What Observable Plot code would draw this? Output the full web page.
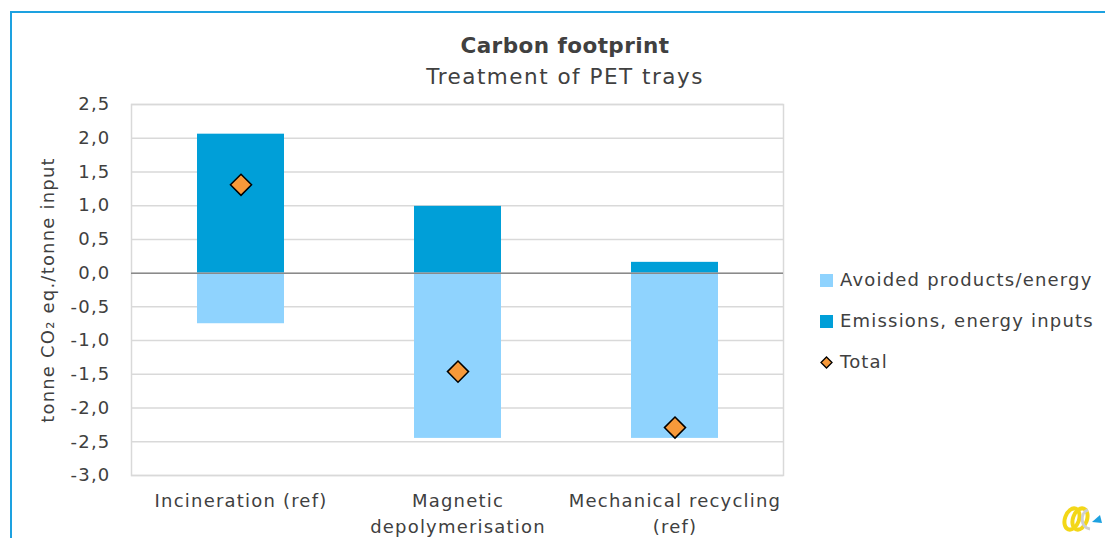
<!DOCTYPE html>
<html><head><meta charset="utf-8">
<script src="https://cdn.jsdelivr.net/npm/d3@7"></script>
<script src="https://cdn.jsdelivr.net/npm/@observablehq/plot@0.6"></script>
<style>
body{margin:0;background:#fff;overflow:hidden;font-family:"DejaVu Sans",sans-serif;color:#404040}
#wrap{position:relative;width:1105px;height:538px;overflow:hidden;background:#fff}
#border{position:absolute;left:10px;top:11px;width:1200px;height:700px;border:2px solid #1da1e0;box-sizing:border-box}
#title{position:absolute;left:10px;width:1110px;top:30px;text-align:center;font-size:21.5px;line-height:31px;color:#404040}
#title b{font-weight:bold;letter-spacing:0.45px}
#title span{letter-spacing:1.5px}
#chart{position:absolute;left:0;top:94px}
#legend{position:absolute;left:820px;top:266px;font-size:18px;letter-spacing:1.2px;color:#404040}
.li{position:relative;height:41px;line-height:28px;padding-left:20px;white-space:nowrap}
.sw{position:absolute;left:0;top:8px;width:13px;height:13px}
#logo{position:absolute;left:1058px;top:498px}
</style></head>
<body>
<div id="wrap">
  <div id="border"></div>
  <div id="title"><b>Carbon footprint</b><br><span>Treatment of PET trays</span></div>
  <div id="chart"></div>
  <div id="legend"></div>
  <svg id="logo" width="47" height="40" viewBox="0 0 47 40">
    <ellipse cx="14" cy="21" rx="7" ry="11" transform="rotate(20 14 21)" fill="none" stroke="#f3d718" stroke-width="4"/>
    <ellipse cx="22" cy="21" rx="7" ry="11" transform="rotate(20 22 21)" fill="none" stroke="#f3d718" stroke-width="4"/>
    <path d="M30 12 C22 14, 22 30, 32 31" fill="none" stroke="#cfcfcf" stroke-width="3"/>
    <path d="M34 24 L42 17 L44 25 Z" fill="#1da1e0"/>
  </svg>
</div>
<script>
const categories = ["Incineration (ref)", "Magnetic depolymerisation", "Mechanical recycling (ref)"];
const tickLabels = ["Incineration (ref)", "Magnetic\ndepolymerisation", "Mechanical recycling\n(ref)"];
const avoided = [-0.75, -2.45, -2.45];
const emissions = [2.06, 0.99, 0.16];
const totals = [1.31, -1.46, -2.29];
const yTicks = [-3.0, -2.5, -2.0, -1.5, -1.0, -0.5, 0.0, 0.5, 1.0, 1.5, 2.0, 2.5];
const seriesNames = ["Avoided products/energy", "Emissions, energy inputs", "Total"];
const colors = {avoided: "#8fd3fe", emissions: "#009fd8", total: "#f7993a"};

const rows = categories.map((c, i) => ({cat: c, avoided: avoided[i], emissions: emissions[i], total: totals[i]}));
const fmt = v => (Math.abs(v) < 1e-9 ? 0 : v).toFixed(1).replace(".", ",");

const chart = Plot.plot({
  width: 788,
  height: 444,
  marginLeft: 131,
  marginRight: 5,
  marginTop: 10,
  marginBottom: 63,
  style: {fontFamily: "DejaVu Sans, sans-serif", color: "#404040", background: "transparent", overflow: "visible", letterSpacing: "1.2px"},
  x: {domain: categories, paddingInner: 0.6, paddingOuter: 0.3},
  y: {domain: [-3, 2.5]},
  marks: [
    Plot.gridY(yTicks, {stroke: "#d9d9d9", strokeOpacity: 1, strokeWidth: 1.5}),
    Plot.barY(rows, {x: "cat", y1: 0, y2: "emissions", fill: colors.emissions}),
    Plot.barY(rows, {x: "cat", y1: 0, y2: "avoided", fill: colors.avoided}),
    Plot.frame({stroke: "#d9d9d9", strokeWidth: 1.5}),
    Plot.ruleY([0], {stroke: "#8a8a8a", strokeWidth: 1.5}),
    Plot.dot(rows, {x: "cat", y: "total", symbol: "diamond2", r: 9.5, fill: colors.total, stroke: "#000", strokeWidth: 1.5}),
    Plot.axisY(yTicks, {tickSize: 0, tickPadding: 21, fontSize: 18, tickFormat: fmt,
      label: "tonne CO₂ eq./tonne input", labelAnchor: "center", labelOffset: 90, labelArrow: "none"}),
    Plot.axisX({tickSize: 0, tickPadding: 14, fontSize: 18, lineHeight: 1.4,
      tickFormat: d => tickLabels[categories.indexOf(d)], label: null})
  ]
});
document.getElementById("chart").appendChild(chart);

const legend = document.getElementById("legend");
const items = [
  {name: seriesNames[0], html: `<div class="sw" style="background:${colors.avoided}"></div>`},
  {name: seriesNames[1], html: `<div class="sw" style="background:${colors.emissions}"></div>`},
  {name: seriesNames[2], html: `<svg class="sw" viewBox="0 0 13 13" style="overflow:visible"><path d="M6.5 1 L12 6.5 L6.5 12 L1 6.5 Z" fill="${colors.total}" stroke="#000" stroke-width="1.3"/></svg>`}
];
for (const it of items) {
  const d = document.createElement("div");
  d.className = "li";
  d.innerHTML = it.html + `<span>${it.name}</span>`;
  legend.appendChild(d);
}
</script>
</body></html>
